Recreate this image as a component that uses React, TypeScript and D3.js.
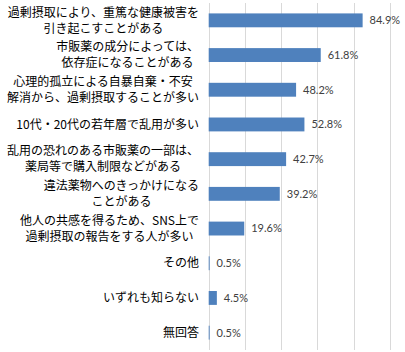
import React, { useEffect, useRef } from "react";
import * as d3 from "d3";

// categories (line breaks as in the picture)
const categories = [
  "過剰摂取により、重篤な健康被害を\n引き起こすことがある",
  "市販薬の成分によっては、\n依存症になることがある",
  "心理的孤立による自暴自棄・不安\n解消から、過剰摂取することが多い",
  "10代・20代の若年層で乱用が多い",
  "乱用の恐れのある市販薬の一部は、\n薬局等で購入制限などがある",
  "違法薬物へのきっかけになる\nことがある",
  "他人の共感を得るため、SNS上で\n過剰摂取の報告をする人が多い",
  "その他",
  "いずれも知らない",
  "無回答",
];
const values = [84.9, 61.8, 48.2, 52.8, 42.7, 39.2, 19.6, 0.5, 4.5, 0.5];
const gridTicks = [0, 20, 40, 60, 80, 100];

const width = 405,
  height = 352;

export default function App() {
  const svgRef = useRef<SVGSVGElement>(null);

  useEffect(() => {
    const svg = d3.select(svgRef.current);
    svg.selectAll("*").remove();

    const x = d3.scaleLinear().domain([0, 100]).range([208.7, 390]);
    const y = d3
      .scaleBand<number>()
      .domain(d3.range(categories.length))
      .range([3, 350])
      .paddingInner(0.6)
      .paddingOuter(0.3);

    // gridlines
    svg
      .append("g")
      .selectAll("line")
      .data(gridTicks)
      .join("line")
      .attr("x1", (d) => Math.round(x(d)) + 0.5)
      .attr("x2", (d) => Math.round(x(d)) + 0.5)
      .attr("y1", 3)
      .attr("y2", 350)
      .attr("stroke", "#d9d9d9")
      .attr("stroke-width", 1);

    // bars
    svg
      .append("g")
      .selectAll("rect")
      .data(values)
      .join("rect")
      .attr("x", x(0))
      .attr("y", (d, i) => y(i)!)
      .attr("width", (d) => x(d) - x(0))
      .attr("height", y.bandwidth())
      .attr("fill", "#4f81bd");

    // value labels
    svg
      .append("g")
      .selectAll("text")
      .data(values)
      .join("text")
      .attr("x", (d) => x(d) + 7)
      .attr("y", (d, i) => y(i)! + y.bandwidth() / 2)
      .attr("dy", "0.35em")
      .attr("font-family", "Lato, 'Open Sans', sans-serif")
      .attr("font-size", 11)
      .attr("fill", "#404040")
      .text((d) => d.toFixed(1) + "%");

    // category labels: block right-aligned, lines centered inside the block
    const lineH = 16;
    const labels = svg.append("g");
    categories.forEach((c, i) => {
      const lines = c.split("\n");
      const cy = y(i)! + y.bandwidth() / 2;
      const g = labels.append("g");
      const texts = lines.map((l, j) =>
        g
          .append("text")
          .attr("y", cy + (j - (lines.length - 1) / 2) * lineH)
          .attr("dy", "0.35em")
          .attr("font-family", "'Noto Sans CJK JP', sans-serif")
          .attr("font-size", 12)
          .attr("fill", "#000")
          .attr("text-anchor", "middle")
          .text(l)
      );
      const w = d3.max(texts, (t) => (t.node() as SVGTextElement).getComputedTextLength()) || 0;
      texts.forEach((t) => t.attr("x", 199 - w / 2));
    });
  }, []);

  return (
    <svg
      ref={svgRef}
      width={width}
      height={height}
      style={{ position: "absolute", left: 0, top: 0, background: "#fff" }}
    />
  );
}
